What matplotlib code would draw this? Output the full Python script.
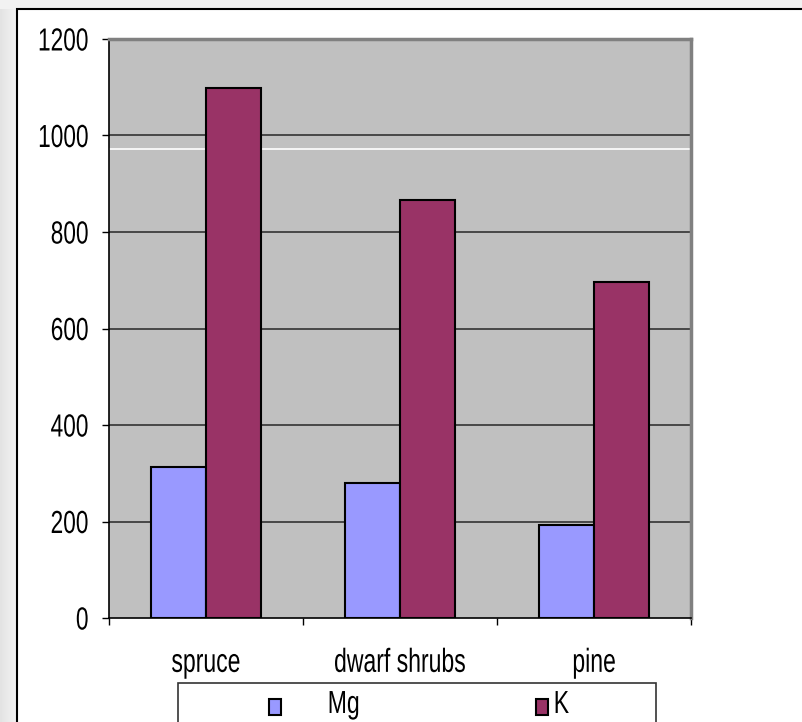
import matplotlib
matplotlib.use("Agg")
import matplotlib.pyplot as plt
import numpy as np
from matplotlib.patches import Rectangle
from matplotlib.patheffects import AbstractPathEffect
from matplotlib.transforms import Affine2D

categories = ["spruce", "dwarf shrubs", "pine"]
mg_values = [313, 280, 193]
k_values = [1098, 866, 696]
y_ticks = [0, 200, 400, 600, 800, 1000, 1200]
series_names = ["Mg", "K"]

plt.rcParams["font.family"] = ["Liberation Sans", "DejaVu Sans"]


class Squeeze(AbstractPathEffect):
    """Draw text glyphs horizontally narrowed around a chosen anchor."""

    def __init__(self, sx=0.72, anchor="center"):
        super().__init__()
        self.sx = sx
        self.anchor = anchor

    def draw_path(self, renderer, gc, tpath, affine, rgbFace=None):
        ext = tpath.get_extents()
        if self.anchor == "right":
            cx = ext.x1
        elif self.anchor == "left":
            cx = ext.x0
        else:
            cx = 0.5 * (ext.x0 + ext.x1)
        t = Affine2D().translate(-cx, 0).scale(self.sx, 1).translate(cx, 0) + affine
        renderer.draw_path(gc, tpath, t, rgbFace)


W, H = 803, 722
fig = plt.figure(figsize=(W / 100, H / 100), dpi=100)
fig.patch.set_facecolor("#f2f2f2")

# backdrop: light gradient on the left edge, white chart area with a dark frame
bg = fig.add_axes([0, 0, 1, 1], zorder=-10)
bg.set_xlim(0, W)
bg.set_ylim(H, 0)
bg.axis("off")
grad = np.linspace(0.89, 0.95, 17)[None, :].repeat(2, axis=0)
bg.imshow(grad, extent=[0, 17, H, 9], cmap="gray", vmin=0, vmax=1, aspect="auto")
bg.add_patch(Rectangle((17, 9), W, H, facecolor="white", edgecolor="black", lw=1.5))

ax = fig.add_axes([109 / W, 1 - 618 / H, 582 / W, 579 / H])
ax.set_facecolor("#c0c0c0")

x = np.arange(len(categories))
bw = 0.286
ax.bar(x - bw / 2, mg_values, bw, color="#9999ff", edgecolor="black", lw=1.5, zorder=3)
ax.bar(x + bw / 2, k_values, bw, color="#993366", edgecolor="black", lw=1.5, zorder=3)

ax.set_xlim(-0.5, len(categories) - 0.5)
ax.set_ylim(0, 1200)
ax.set_yticks(y_ticks)
ax.set_yticklabels([str(v) for v in y_ticks], fontsize=23)
for v in y_ticks[1:-1]:
    ax.axhline(v, color="#333333", lw=1.2, zorder=1)
ax.axhline(973, color="white", lw=1.2, zorder=1)

ax.set_xticks(np.arange(len(categories) + 1) - 0.5)
ax.set_xticklabels([])
ax.set_xticks(x, minor=True)
ax.set_xticklabels(categories, minor=True, fontsize=24)
ax.tick_params(axis="x", which="minor", length=0, pad=21.5)
ax.tick_params(axis="x", which="major", length=5, width=1, direction="out")
ax.tick_params(axis="y", length=5, width=1, direction="out", pad=9.5)

for lab in ax.get_yticklabels():
    lab.set_path_effects([Squeeze(0.71, "right")])
for lab in ax.get_xticklabels(minor=True):
    lab.set_path_effects([Squeeze(0.69, "center")])

for s in ("top", "right"):
    ax.spines[s].set_color("#808080")
    ax.spines[s].set_linewidth(2.5)
for s in ("left", "bottom"):
    ax.spines[s].set_color("black")
    ax.spines[s].set_linewidth(1.2)

# legend box, running past the lower edge of the figure
bg.add_patch(Rectangle((178, 683), 478, 80, facecolor="white", edgecolor="#333333", lw=1.2, zorder=2))
bg.add_patch(Rectangle((269, 699), 12, 16, facecolor="#9999ff", edgecolor="black", lw=1.5, zorder=3))
bg.add_patch(Rectangle((536, 699), 12, 16, facecolor="#993366", edgecolor="black", lw=1.5, zorder=3))
bg.text(327, 713, series_names[0], fontsize=23, va="baseline", ha="left", zorder=4,
        path_effects=[Squeeze(0.72, "left")])
bg.text(553, 713, series_names[1], fontsize=23, va="baseline", ha="left", zorder=4,
        path_effects=[Squeeze(0.72, "left")])

fig.savefig("out.png", dpi=100, facecolor=fig.get_facecolor())
